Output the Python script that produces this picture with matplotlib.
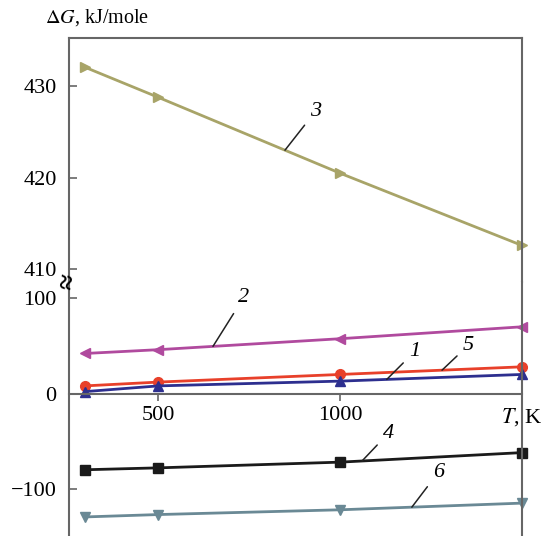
import matplotlib
matplotlib.use("Agg")
import matplotlib.pyplot as plt
import numpy as np

plt.rcParams['font.family'] = ['Liberation Serif', 'DejaVu Serif']
plt.rcParams['mathtext.fontset'] = 'stix'

# temperatures, K
T = [298, 500, 1000, 1500]

# Gibbs energy, kJ/mole
dG1 = [2, 8, 13, 20]        # blue, up triangles
dG5 = [8, 12, 20, 28]       # red, circles
dG2 = [42, 46, 57.5, 70]    # magenta, left triangles
dG3 = [432.1, 428.8, 420.5, 412.6]  # olive, right triangles
dG4 = [-80, -78, -72, -62]  # black squares
dG6 = [-129.5, -127, -122, -115]  # grey-blue, down triangles

xticks = [500, 1000, 1500]
xticklabels = ['500', '1000', r'$T$, K']

# curve labels: (label, series, T of leader end, text offset in points)
labels = [
    ('3', dG3, 848, (22, 28)),
    ('2', dG2, 650, (22, 35)),
    ('1', dG1, 1128, (20, 20)),
    ('5', dG5, 1280, (19, 18)),
    ('4', dG4, 1060, (19, 20)),
    ('6', dG6, 1197, (19, 25)),
]

W, H = 552, 536
fig = plt.figure(figsize=(W / 100, H / 100), dpi=100)

left, right = 69, 522
top, brk, bottom = 38, 282, 536
ax_top = fig.add_axes([left / W, (H - brk) / H, (right - left) / W, (brk - top) / H])
ax_bot = fig.add_axes([left / W, 0, (right - left) / W, (bottom - brk) / H])

spine_col = '#666666'
style = dict(lw=2, ms=7, clip_on=False)
ax_top.plot(T, dG3, color='#a8a468', marker='>', **style)
ax_bot.plot(T, dG2, color='#b04a9e', marker='<', **style)
ax_bot.plot(T, dG5, color='#e8402a', marker='o', **style)
ax_bot.plot(T, dG1, color='#2d2f8f', marker='^', **style)
ax_bot.plot(T, dG4, color='#1a1a1a', marker='s', **style)
ax_bot.plot(T, dG6, color='#6a8995', marker='v', **style)

xlim = (254, 1500)
for ax in (ax_top, ax_bot):
    ax.set_xlim(*xlim)
    for s in ax.spines.values():
        s.set_color(spine_col)
        s.set_linewidth(1.5)
    ax.tick_params(axis='y', direction='in', length=6, width=1.2,
                   color=spine_col, labelsize=16, pad=9)

ax_top.set_ylim(408.6, 435.3)
ax_top.set_yticks([410, 420, 430])
ax_top.spines['bottom'].set_visible(False)
ax_top.tick_params(axis='x', bottom=False, labelbottom=False)

ax_bot.set_ylim(-149.5, 117)
ax_bot.set_yticks([-100, 0, 100])
ax_bot.set_yticklabels(['\u2212100', '0', '100'])
ax_bot.spines['top'].set_visible(False)
ax_bot.spines['bottom'].set_position(('data', 0))
ax_bot.set_xticks(xticks)
ax_bot.set_xticklabels(xticklabels)
ax_bot.tick_params(axis='x', direction='out', length=5, width=1.2,
                   color=spine_col, labelsize=16, pad=4)

for lab, ser, tx, off in labels:
    ax = ax_top if ser is dG3 else ax_bot
    ax.annotate(lab, xy=(tx, np.interp(tx, T, ser)), xytext=off,
                textcoords='offset points', ha='center', va='center',
                fontsize=16, style='italic',
                arrowprops=dict(arrowstyle='-', color='#222222', lw=1.1,
                                shrinkA=3, shrinkB=0))

fig.text(45 / W, 1 - 18 / H, r'$\Delta G$, kJ/mole', fontsize=14.5,
         ha='left', va='center')
fig.text(left / W, 1 - brk / H, '\u2248', fontsize=20, fontweight='bold',
         ha='center', va='center', rotation=80)

fig.savefig('out.png', dpi=100)
